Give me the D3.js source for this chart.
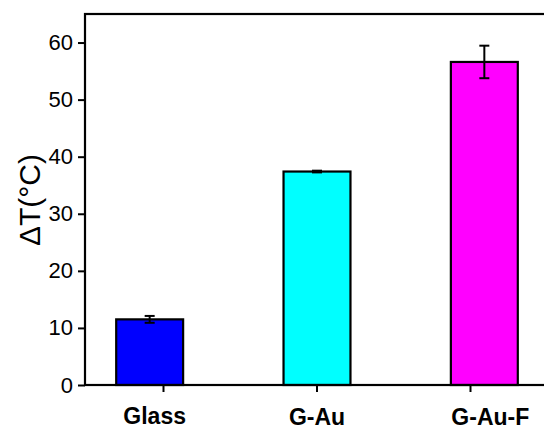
<!DOCTYPE html>
<html>
<head>
<meta charset="utf-8">
<script src="https://cdn.jsdelivr.net/npm/d3@7"></script>
<style>
  html, body { margin: 0; padding: 0; background: #fff; }
  svg { display: block; }
  text { font-family: "Liberation Sans", Arial, sans-serif; fill: #000; }
</style>
</head>
<body>
<svg id="chart" width="544" height="429"></svg>
<script>
// Temperature rise for each substrate
const categories = ["Glass", "G-Au", "G-Au-F"];
const deltaT = [11.5, 37.4, 56.6];
const deltaTErr = [0.6, 0.15, 2.85];
const barColors = ["#0000ff", "#00ffff", "#ff00ff"];
const yTicks = [0, 10, 20, 30, 40, 50, 60];

const svg = d3.select("#chart");
const plot = { left: 85, top: 14, right: 560, bottom: 385 };

const y = d3.scaleLinear().domain([0, 65]).range([plot.bottom, plot.top]);
const xBar = d3.scaleBand().domain(categories)
  .range([66, 568]).paddingInner(0.6).paddingOuter(0.3);
const xTick = d3.scalePoint().domain(categories).range([163, 470]);
const labelShift = [5, 0, 6];
const labelDrop = [39, 40, 40];

// bars
svg.append("g").selectAll("rect")
  .data(categories)
  .join("rect")
  .attr("x", d => xBar(d))
  .attr("y", (d, i) => y(deltaT[i]))
  .attr("width", xBar.bandwidth())
  .attr("height", (d, i) => y(0) - y(deltaT[i]))
  .attr("fill", (d, i) => barColors[i])
  .attr("stroke", "#000")
  .attr("stroke-width", 2.2);

// error bars
const eb = svg.append("g").attr("stroke", "#000").attr("stroke-width", 2);
categories.forEach((c, i) => {
  const cx = xBar(c) + xBar.bandwidth() / 2;
  const hi = y(deltaT[i] + deltaTErr[i]);
  const lo = y(deltaT[i] - deltaTErr[i]);
  eb.append("line").attr("x1", cx).attr("x2", cx).attr("y1", hi).attr("y2", lo);
  eb.append("line").attr("x1", cx - 5).attr("x2", cx + 5).attr("y1", hi).attr("y2", hi);
  eb.append("line").attr("x1", cx - 5).attr("x2", cx + 5).attr("y1", lo).attr("y2", lo);
});

// frame
svg.append("rect")
  .attr("x", plot.left).attr("y", plot.top)
  .attr("width", plot.right - plot.left).attr("height", plot.bottom - plot.top)
  .attr("fill", "none").attr("stroke", "#000").attr("stroke-width", 2.2);

// y axis
const yAxis = svg.append("g")
  .attr("transform", `translate(${plot.left},0)`)
  .call(d3.axisLeft(y).tickValues(yTicks).tickSize(7).tickPadding(5));
yAxis.select(".domain").remove();
yAxis.selectAll(".tick line").attr("stroke", "#000").attr("stroke-width", 2);
yAxis.selectAll(".tick text")
  .style("font-family", "'Liberation Sans', Arial, sans-serif")
  .style("font-size", "22px").attr("fill", "#000");

// x axis ticks
const xAxis = svg.append("g")
  .attr("transform", `translate(0,${plot.bottom})`)
  .call(d3.axisBottom(xTick).tickSize(7).tickFormat(""));
xAxis.select(".domain").remove();
xAxis.selectAll(".tick line").attr("stroke", "#000").attr("stroke-width", 2);

// category labels
svg.append("g").selectAll("text")
  .data(categories)
  .join("text")
  .attr("x", (d, i) => xBar(d) + xBar.bandwidth() / 2 + labelShift[i])
  .attr("y", (d, i) => plot.bottom + labelDrop[i])
  .attr("text-anchor", "middle")
  .style("font-size", "23px")
  .style("font-weight", "bold")
  .text(d => d);

// y axis title
svg.append("text")
  .attr("transform", `translate(40,200) rotate(-90)`)
  .attr("text-anchor", "middle")
  .style("font-size", "30px")
  .text("ΔT(°C)");
</script>
</body>
</html>
